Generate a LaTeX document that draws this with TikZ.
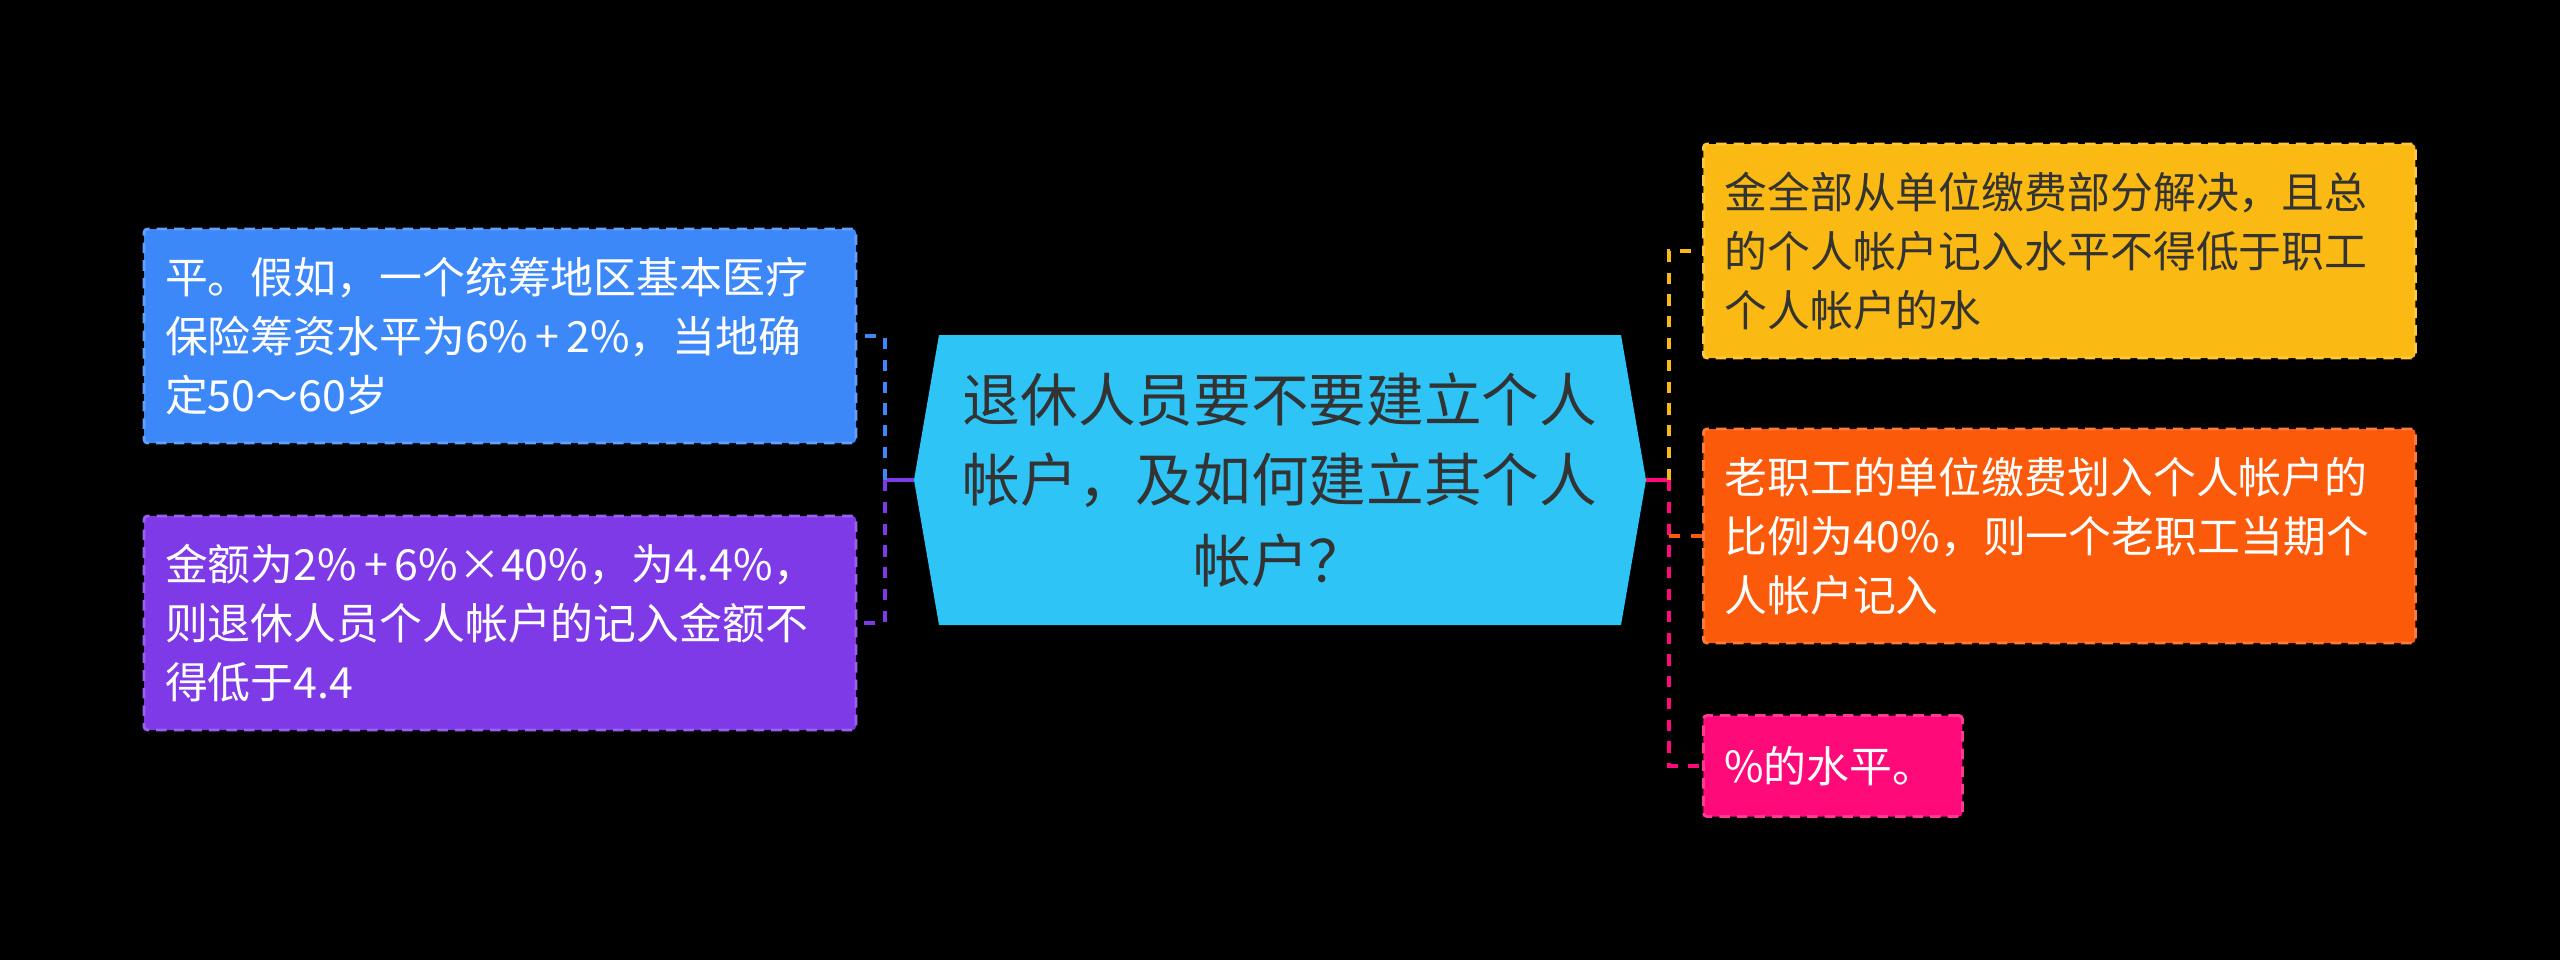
\documentclass[tikz,border=0pt]{standalone}
\usepackage{fontspec}
\setmainfont{Noto Sans CJK SC}
\usepackage{tikz}

\definecolor{topic}{HTML}{2EC4F5}
\definecolor{ink}{HTML}{333333}
\definecolor{cblue}{HTML}{3D88F9}
\definecolor{cpurple}{HTML}{7F3AE8}
\definecolor{cyellow}{HTML}{FBBA13}
\definecolor{corange}{HTML}{FB5A0B}
\definecolor{cpink}{HTML}{FF0A78}

\begin{document}
\begin{tikzpicture}[elbow/.style={to path={|- (\tikztotarget)}}]
			\fill[black] (0,0) rectangle (25.6,9.6);
			\useasboundingbox (0,0) rectangle (25.6,9.6);
			
			% topic
			\fill[topic] (9.14,4.8) -- (9.39,6.25) -- (16.21,6.25) -- (16.46,4.8) -- (16.21,3.35) -- (9.39,3.35) -- cycle;
			\node[text=ink, align=center, font=\fontsize{16.4}{22.8}\selectfont] (T) at (12.8,4.8) {退休人员要不要建立个人\\帐户，及如何建立其个人\\帐户？};
			\coordinate (Tw) at (9.14,4.8);
			\coordinate (Te) at (16.46,4.8);
			\coordinate (Jl) at (8.85,4.8);
			\coordinate (Jr) at (16.69,4.8);
			
			\begin{scope}[every node/.style={rectangle, rounded corners=1pt, line width=0.8pt, dash pattern=on 3pt off 2pt, text width=6.7cm, inner xsep=0.21cm, minimum height=2.14cm, align=left, font=\fontsize{12.2}{16.8}\selectfont, text=white}]
				\node[fill=cblue, draw=cblue!80!white] (L1) at (5.0,6.24) {平。假如，一个统筹地区基本医疗\\保险筹资水平为6\%\,+\,2\%，当地确\\定50～60岁};
				\node[fill=cpurple, draw=cpurple!80!white] (L2) at (5.0,3.37) {金额为2\%\,+\,6\%×40\%，为4.4\%，\\则退休人员个人帐户的记入金额不\\得低于4.4};
				\node[fill=cyellow, draw=cyellow!80!white, text=ink, anchor=west] (R1) at (17.02,7.09) {金全部从单位缴费部分解决，且总\\的个人帐户记入水平不得低于职工\\个人帐户的水};
				\node[fill=corange, draw=corange!80!white, anchor=west] (R2) at (17.02,4.24) {老职工的单位缴费划入个人帐户的\\比例为40\%，则一个老职工当期个\\人帐户记入};
				\node[fill=cpink, draw=cpink!80!white, anchor=west, text width=2.17cm, minimum height=1.01cm] (R3) at (17.02,1.94) {\%的水平。};
			\end{scope}
			
			\begin{scope}[every edge/.style={draw, line width=1.3pt, dash pattern=on 3.2pt off 3pt}]
				\path (Tw) edge[cpurple, solid] (Jl);
				\path (Jl) edge[cblue, elbow] (L1.east);
				\path (Jl) edge[cpurple, elbow] (L2.east);
				\path (Te) edge[cpink, solid] (Jr);
				\path (Jr) edge[cyellow, elbow] (R1.west);
				\path (Jr) edge[cpink, elbow] (R3.west);
				\path (Jr |- R2.west) edge[corange] (R2.west);
			\end{scope}
		\end{tikzpicture}
\end{document}
